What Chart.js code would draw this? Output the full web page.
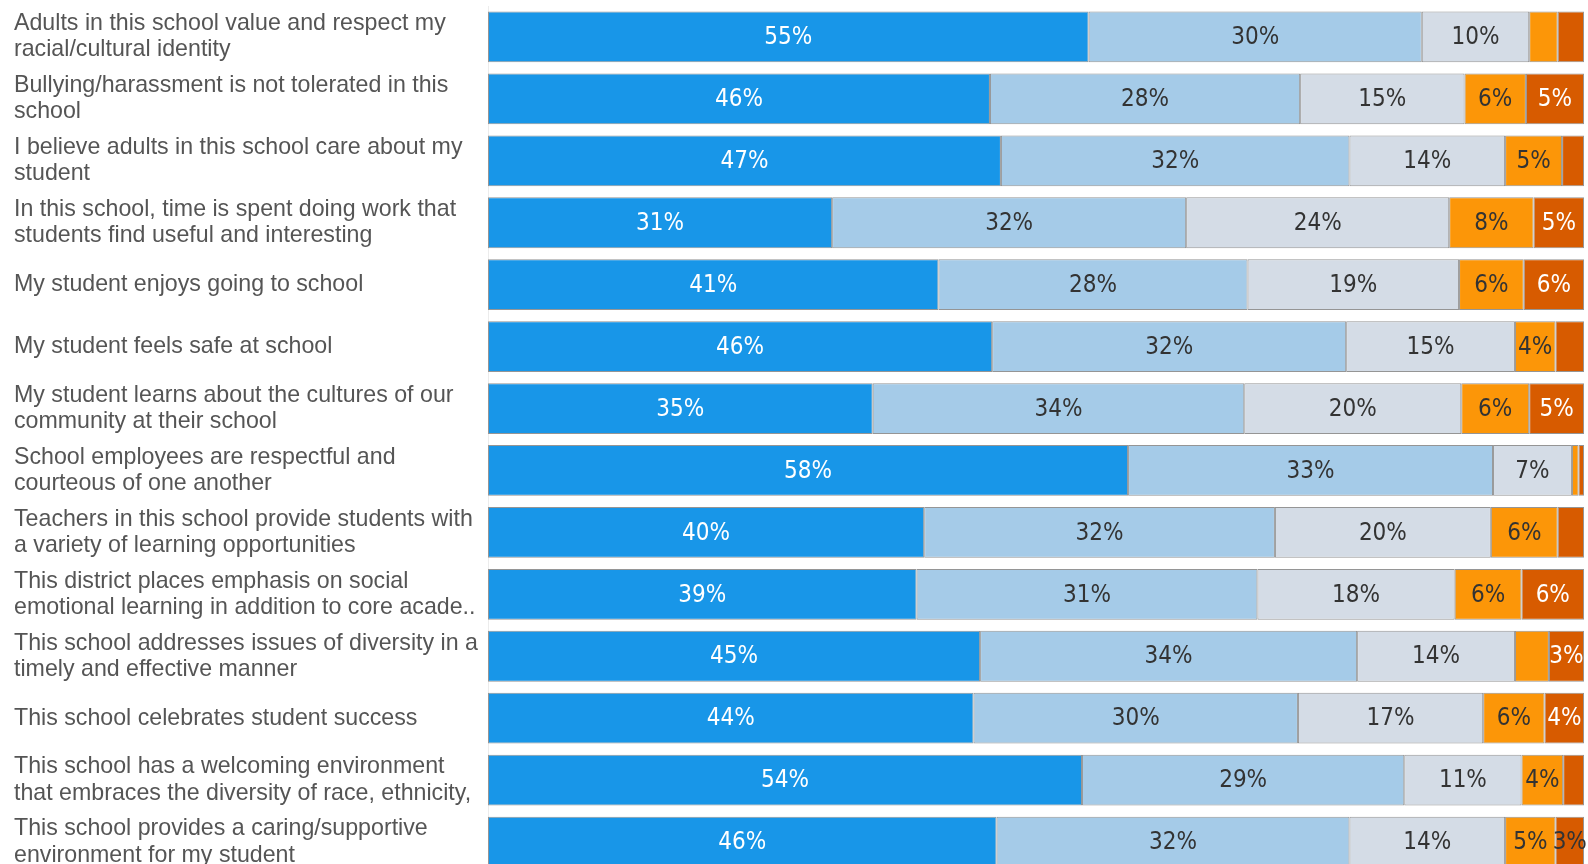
<!DOCTYPE html>
<html lang="en">
<head>
    <meta charset="UTF-8">
    <title>School Climate Survey</title>
    <script src="https://cdn.jsdelivr.net/npm/chart.js"></script>
    <style>
        html, body {
            margin: 0;
            padding: 0;
            overflow: hidden;
            background: #fff;
        }
        #chart-container {
            width: 1588px;
            height: 880px;
            position: relative;
        }
    </style>
</head>
<body>
    <div id="chart-container">
        <canvas id="surveyChart"></canvas>
    </div>
    <script>
        const questions = [
            ['Adults in this school value and respect my', 'racial/cultural identity'],
            ['Bullying/harassment is not tolerated in this', 'school'],
            ['I believe adults in this school care about my', 'student'],
            ['In this school, time is spent doing work that', 'students find useful and interesting'],
            'My student enjoys going to school',
            'My student feels safe at school',
            ['My student learns about the cultures of our', 'community at their school'],
            ['School employees are respectful and', 'courteous of one another'],
            ['Teachers in this school provide students with', 'a variety of learning opportunities'],
            ['This district places emphasis on social', 'emotional learning in addition to core acade..'],
            ['This school addresses issues of diversity in a', 'timely and effective manner'],
            'This school celebrates student success',
            ['This school has a welcoming environment', 'that embraces the diversity of race, ethnicity,'],
            ['This school provides a caring/supportive', 'environment for my student']
        ];

        // percent of responses per answer, one array per answer level
        const stronglyAgree    = [54.8, 45.8, 46.8, 31.4, 41.1, 46.0, 35.1, 58.4, 39.8, 39.1, 44.9, 44.3, 54.2, 46.4];
        const agree            = [30.4, 28.3, 31.8, 32.3, 28.2, 32.3, 33.9, 33.3, 32.0, 31.1, 34.4, 29.6, 29.4, 32.2];
        const neutral          = [ 9.8, 15.0, 14.2, 24.0, 19.3, 15.4, 19.8,  7.2, 19.7, 18.0, 14.4, 16.9, 10.7, 14.2];
        const disagree         = [ 2.6,  5.6,  5.2,  7.7,  5.9,  3.7,  6.2,  0.6,  6.1,  6.1,  3.1,  5.6,  3.8,  4.6];
        const stronglyDisagree = [ 2.4,  5.3,  2.0,  4.6,  5.5,  2.6,  5.0,  0.5,  2.4,  5.7,  3.2,  3.6,  1.9,  2.6];

        // segments whose label is not shown / drawn dark (row:series)
        const hiddenLabels = ['0:3', '0:4', '2:4', '5:4', '7:3', '7:4', '8:4', '10:3', '12:4'];
        const darkLabels = ['13:4'];

        const colors = ['#1896e8', '#a5cbe8', '#d4dce6', '#fc9608', '#d75b00'];
        const labelColors = ['#ffffff', '#333333', '#333333', '#333333', '#ffffff'];

        const segmentLabels = {
            id: 'segmentLabels',
            afterDatasetsDraw(chart) {
                const ctx = chart.ctx;
                ctx.save();
                ctx.font = '24px "DejaVu Sans Condensed", "DejaVu Sans", sans-serif';
                ctx.textAlign = 'center';
                ctx.textBaseline = 'middle';
                chart.data.datasets.forEach((ds, i) => {
                    const meta = chart.getDatasetMeta(i);
                    meta.data.forEach((bar, j) => {
                        const key = j + ':' + i;
                        if (hiddenLabels.includes(key)) return;
                        const x = (bar.x + bar.base) / 2;
                        ctx.fillStyle = darkLabels.includes(key) ? '#333333' : labelColors[i];
                        ctx.fillText(Math.round(ds.data[j]) + '%', x, bar.y + 1);
                    });
                });
                ctx.restore();
            }
        };

        const series = [stronglyAgree, agree, neutral, disagree, stronglyDisagree];
        const names = ['Strongly Agree', 'Agree', 'Neutral', 'Disagree', 'Strongly Disagree'];

        const ctx = document.getElementById('surveyChart').getContext('2d');
        const chart = new Chart(ctx, {
            type: 'bar',
            data: {
                labels: questions,
                datasets: series.map((values, i) => ({
                    label: names[i],
                    data: values,
                    backgroundColor: colors[i],
                    borderColor: '#959595',
                    borderWidth: 1,
                    borderSkipped: false,
                    categoryPercentage: 1,
                    barPercentage: 0.82
                }))
            },
            options: {
                indexAxis: 'y',
                responsive: true,
                maintainAspectRatio: false,
                animation: false,
                layout: {
                    padding: { top: 6, bottom: 7, left: 14, right: 4 }
                },
                scales: {
                    x: {
                        stacked: true,
                        min: 0,
                        max: 100,
                        display: false
                    },
                    y: {
                        stacked: true,
                        grid: { display: false },
                        border: { display: true, color: '#ececec' },
                        afterFit: (axis) => {
                            axis.width = 474;
                            axis.paddingTop = 0;
                            axis.paddingBottom = 0;
                        },
                        ticks: {
                            crossAlign: 'far',
                            color: '#555555',
                            autoSkip: false,
                            font: {
                                family: '"Liberation Sans", Arial, sans-serif',
                                size: 23.2,
                                lineHeight: 1.13
                            }
                        }
                    }
                },
                plugins: {
                    legend: { display: false },
                    tooltip: { enabled: false }
                }
            },
            plugins: [segmentLabels]
        });
    </script>
</body>
</html>
